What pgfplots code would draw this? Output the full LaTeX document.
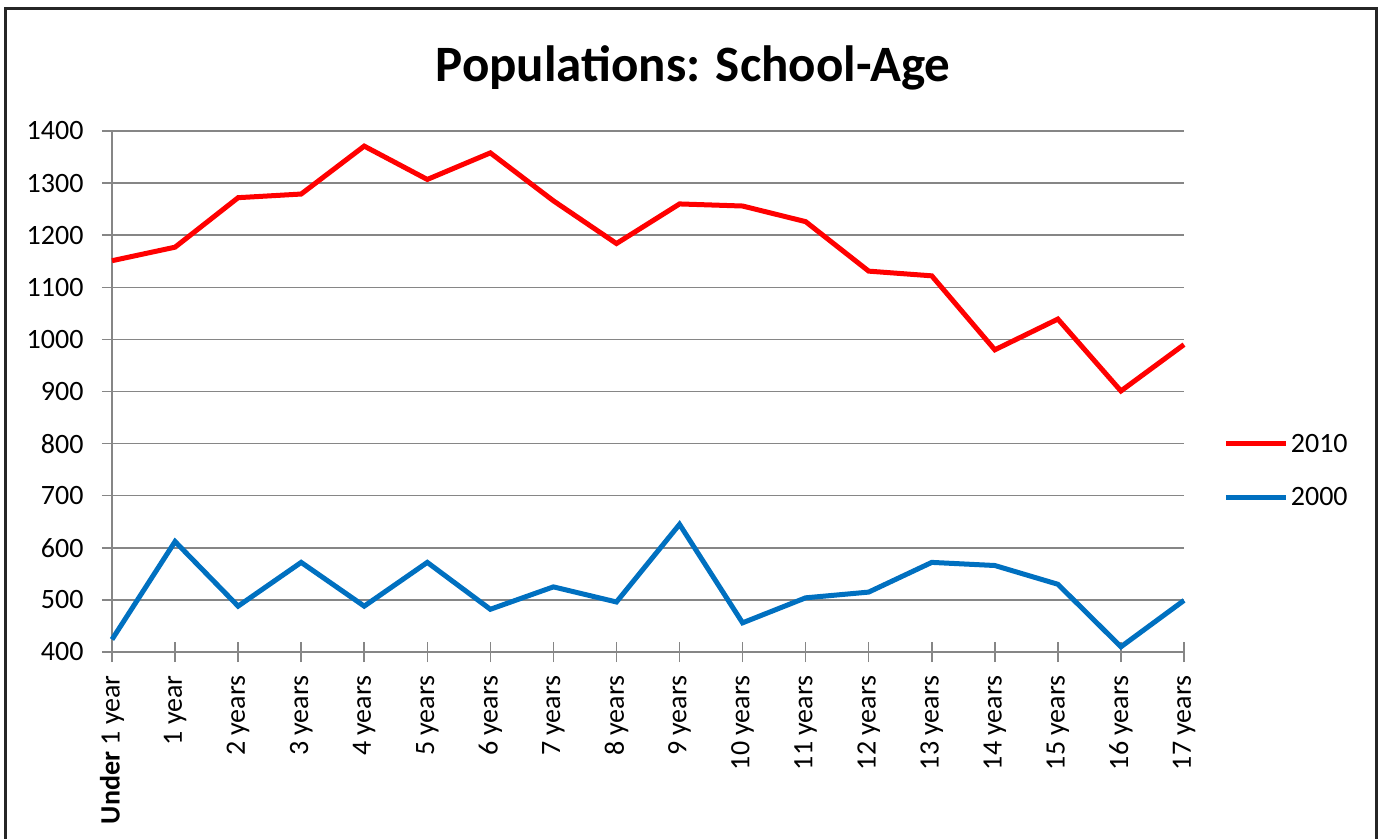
\documentclass[border=0pt]{standalone}
\usepackage{fontspec}
\setmainfont{Carlito}
\usepackage{pgfplots}
\pgfplotsset{compat=1.18}
\definecolor{lred}{RGB}{255,0,0}
\definecolor{lblue}{RGB}{0,112,192}
\definecolor{gridgray}{RGB}{134,134,134}
\begin{document}
\begin{tikzpicture}[x=1pt,y=1pt]
\useasboundingbox (0,0) rectangle (1381,838);
\draw[line width=3pt, black!85] (5,-20) rectangle (1376.5,829);
\node[anchor=base, font=\fontsize{51}{56}\selectfont\bfseries] at (693,756) {Populations: School-Age};
\begin{axis}[
  at={(112pt,186pt)}, anchor=south west,
  scale only axis, width=1072pt, height=521pt,
  xmin=0, xmax=17, ymin=400, ymax=1400,
  axis x line=bottom, axis y line=left,
  axis line style={gridgray, line width=1.5pt, -},
  ytick={400,500,...,1400},
  xtick={0,...,17},
  xticklabels={{\textbf{Under} 1 year},1 year,2 years,3 years,4 years,5 years,6 years,7 years,8 years,9 years,10 years,11 years,12 years,13 years,14 years,15 years,16 years,17 years},
  ymajorgrids,
  grid style={gridgray, line width=1.5pt},
  major tick length=20pt, tick align=center,
  tick style={gridgray, line width=1.5pt},
  ticklabel style={font=\fontsize{28}{30}\selectfont},
  xticklabel style={rotate=90, anchor=east},
  xticklabel shift=10pt,
  yticklabel shift=15pt,
  /pgf/number format/assume math mode=true,
  /pgf/number format/1000 sep={},
  clip=false,
  legend style={at={(1.037,0.348)}, anchor=west, draw=none, fill=none,
    font=\fontsize{28}{30}\selectfont, row sep=30pt, inner sep=0pt,
    nodes={inner sep=2pt}},
  legend cell align=left,
  legend image code/.code={\draw[#1] (0pt,0pt) -- (60pt,0pt);},
]
\addplot[lred, line width=5pt] coordinates {
(0,1151) (1,1177) (2,1272) (3,1279) (4,1371) (5,1307) (6,1358) (7,1266) (8,1184)
(9,1260) (10,1256) (11,1226) (12,1131) (13,1122) (14,980) (15,1039) (16,901) (17,990)};
\addlegendentry{2010}
\addplot[lblue, line width=5pt] coordinates {
(0,424) (1,612) (2,488) (3,572) (4,488) (5,572) (6,482) (7,525) (8,496)
(9,645) (10,456) (11,504) (12,515) (13,572) (14,566) (15,530) (16,410) (17,499)};
\addlegendentry{2000}
\end{axis}
\end{tikzpicture}
\end{document}
